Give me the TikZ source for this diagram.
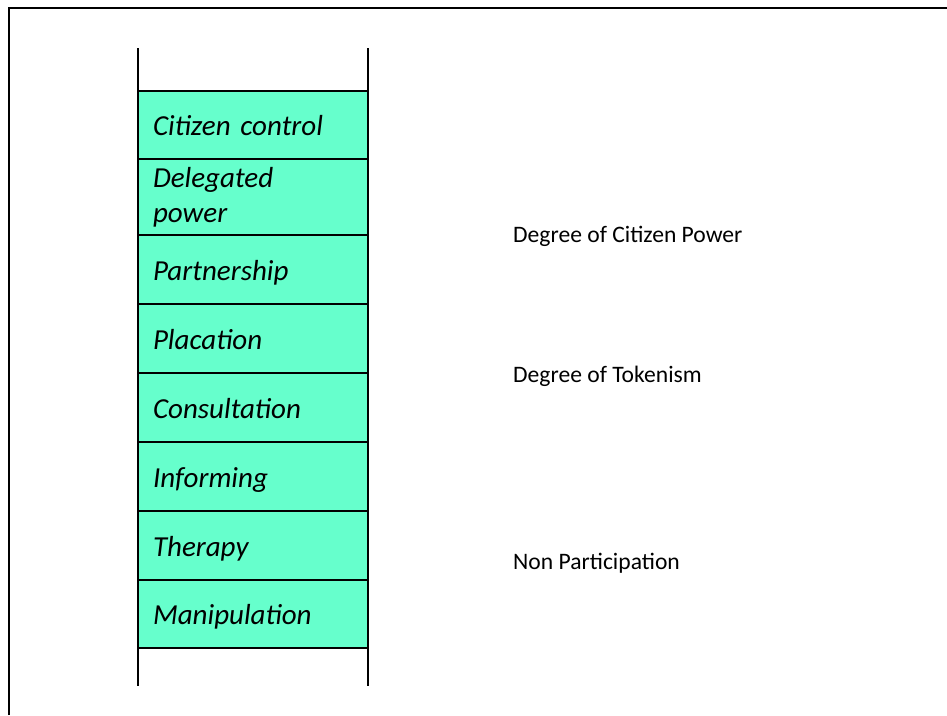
\documentclass[tikz,border=0pt]{standalone}
\usepackage{fontspec}
\setmainfont{Carlito}
\usetikzlibrary{positioning}
\definecolor{rungfill}{RGB}{102,255,204}
\tikzstyle{rung} = [rectangle, draw, line width=2.5pt, fill=rungfill,
    outer sep=0pt, inner sep=0pt, minimum width=230pt, minimum height=69pt,
    text width=200pt, align=left, font=\fontsize{29}{35}\selectfont\itshape]
\tikzstyle{single} = [rung, text height=27pt, text depth=6pt]
\tikzstyle{degree} = [anchor=base west, inner sep=0pt,
    font=\fontsize{23.6}{28}\selectfont]
\tikzstyle{rail} = [draw, line width=2.5pt]

\begin{document}
\begin{tikzpicture}[x=1pt, y=-1pt]
        \useasboundingbox (0,0) rectangle (947,715);

        % frame
        \draw[line width=2.5pt] (9,715) -- (9,8) -- (947,8);

        % ladder rails
        \coordinate (lefttop) at (138,48);
        \coordinate (leftbot) at (138,686);
        \coordinate (righttop) at (368,48);
        \coordinate (rightbot) at (368,686);

        % rungs
        \node[single, minimum height=68pt] (control) at (253,125) {Citizen control};
        \node[rung, minimum height=76pt, below=0pt of control] (delegated) {Delegated\\power};
        \node[single, below=0pt of delegated] (partner) {Partnership};
        \node[single, below=0pt of partner] (placation) {Placation};
        \node[single, below=0pt of placation] (consult) {Consultation};
        \node[single, below=0pt of consult] (inform) {Informing};
        \node[single, below=0pt of inform] (therapy) {Therapy};
        \node[single, minimum height=68pt, below=0pt of therapy] (manip) {Manipulation};

        \path [rail] (lefttop) -- (leftbot);
        \path [rail] (righttop) -- (rightbot);

        % degrees
        \node[degree] (power) at (513,242) {Degree of Citizen Power};
        \node[degree] (token) at (513,382) {Degree of Tokenism};
        \node[degree] (nonpart) at (513,569) {Non Participation};
    \end{tikzpicture}
\end{document}
